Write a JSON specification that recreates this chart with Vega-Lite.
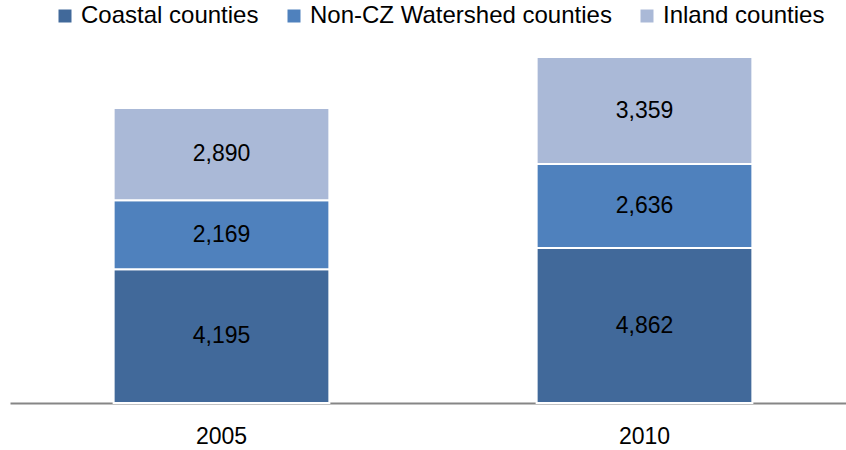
{
  "$schema": "https://vega.github.io/schema/vega-lite/v6.json",
  "width": 846,
  "height": 346,
  "autosize": {"type": "none"},
  "padding": {"left": 10, "top": 57, "right": 0, "bottom": 47},
  "background": "white",
  "config": {
    "view": {"stroke": null},
    "font": "Liberation Sans"
  },
  "data": {
    "values": [
      {"year": "2005", "series": "Coastal counties", "rank": 1, "value": 4195},
      {"year": "2005", "series": "Non-CZ Watershed counties", "rank": 2, "value": 2169},
      {"year": "2005", "series": "Inland counties", "rank": 3, "value": 2890},
      {"year": "2010", "series": "Coastal counties", "rank": 1, "value": 4862},
      {"year": "2010", "series": "Non-CZ Watershed counties", "rank": 2, "value": 2636},
      {"year": "2010", "series": "Inland counties", "rank": 3, "value": 3359}
    ]
  },
  "encoding": {
    "x": {
      "field": "year",
      "type": "nominal",
      "scale": {"paddingInner": 0.49, "paddingOuter": 0.245},
      "axis": {
        "title": null,
        "labelAngle": 0,
        "labelFontSize": 23,
        "labelColor": "#000000",
        "labelPadding": 22,
        "ticks": false,
        "domainColor": "#868686",
        "domainWidth": 2,
        "grid": false
      }
    },
    "order": {"field": "rank", "type": "quantitative", "sort": "ascending"}
  },
  "layer": [
    {
      "mark": {"type": "bar", "stroke": "white", "strokeWidth": 2},
      "encoding": {
        "y": {
          "field": "value",
          "type": "quantitative",
          "stack": "zero",
          "scale": {"domain": [0, 10857], "nice": false},
          "axis": null
        },
        "color": {
          "field": "series",
          "type": "nominal",
          "sort": ["Coastal counties", "Non-CZ Watershed counties", "Inland counties"],
          "scale": {
            "domain": ["Coastal counties", "Non-CZ Watershed counties", "Inland counties"],
            "range": ["#41699A", "#4F81BD", "#AAB9D7"]
          },
          "legend": {
            "title": null,
            "orient": "none",
            "direction": "horizontal",
            "legendX": 43,
            "legendY": -53,
            "symbolType": "square",
            "symbolSize": 169,
            "symbolStrokeWidth": 0,
            "symbolOpacity": 1,
            "labelFontSize": 24,
            "labelColor": "#000000",
            "labelOffset": 4,
            "columnPadding": 23,
            "padding": 0,
            "labelLimit": 400
          }
        }
      }
    },
    {
      "mark": {"type": "text", "fontSize": 23, "color": "#000000", "baseline": "middle"},
      "encoding": {
        "y": {
          "field": "value",
          "type": "quantitative",
          "stack": "zero",
          "bandPosition": 0.5
        },
        "detail": {"field": "series"},
        "text": {"field": "value", "type": "quantitative", "format": ","}
      }
    }
  ]
}
